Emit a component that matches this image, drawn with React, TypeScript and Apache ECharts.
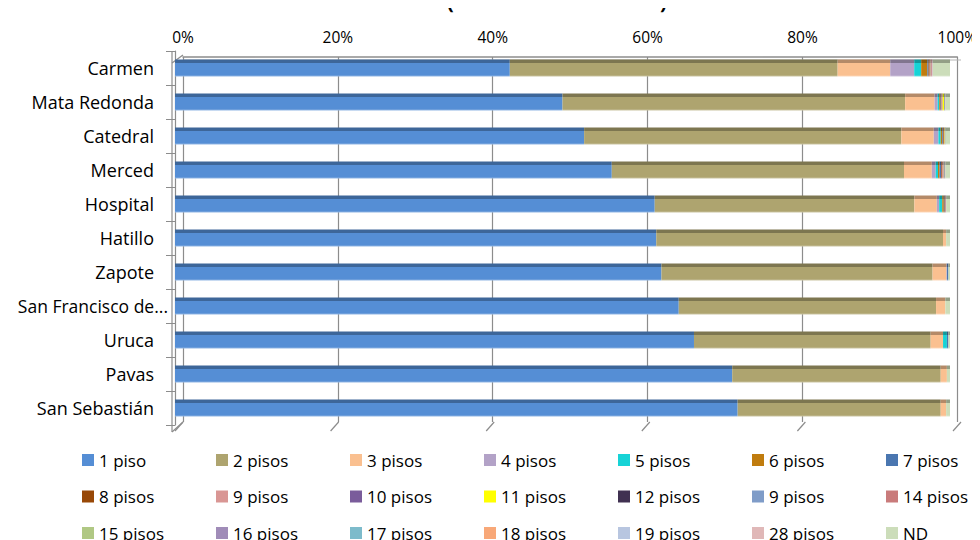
import React, { useEffect, useRef } from "react";
import * as echarts from "echarts";

// Categories (top to bottom)
const categories = [
  "Carmen",
  "Mata Redonda",
  "Catedral",
  "Merced",
  "Hospital",
  "Hatillo",
  "Zapote",
  "San Francisco de...",
  "Uruca",
  "Pavas",
  "San Sebastián",
];

// Percent values (per category, same order)
const piso1 = [43.3, 50.1, 53.0, 56.5, 61.9, 62.1, 62.8, 65.0, 67.1, 71.9, 72.6];
const pisos2 = [42.4, 44.3, 41.1, 37.8, 33.5, 37.0, 35.0, 33.2, 30.6, 26.9, 26.2];
const pisos3 = [6.8, 3.8, 4.2, 3.6, 2.9, 0.4, 1.8, 1.2, 1.6, 0.8, 0.7];
const pisos4 = [3.1, 0.4, 0.6, 0.5, 0.3, 0, 0.05, 0, 0, 0, 0];
const pisos5 = [0.9, 0.2, 0.3, 0.3, 0.4, 0, 0, 0, 0.5, 0, 0];
const pisos6 = [0.8, 0.1, 0.2, 0.2, 0.2, 0, 0, 0, 0, 0, 0];
const pisos7 = [0.15, 0.1, 0.1, 0.2, 0.1, 0, 0.2, 0, 0.2, 0, 0];
const pisos8 = [0.15, 0.1, 0.1, 0.1, 0.1, 0, 0, 0, 0, 0, 0];
const pisos9 = [0.1, 0.1, 0.05, 0.2, 0.05, 0, 0, 0, 0, 0, 0];
const pisos10 = [0.05, 0.05, 0.05, 0.05, 0.05, 0, 0, 0, 0, 0, 0];
const pisos11 = [0.02, 0.2, 0.05, 0.05, 0, 0, 0, 0, 0, 0, 0];
const pisos12 = [0.02, 0.05, 0.05, 0.05, 0, 0, 0, 0, 0, 0, 0];
const pisos9b = [0.02, 0.05, 0, 0.05, 0, 0, 0, 0, 0, 0, 0];
const pisos14 = [0.1, 0.05, 0, 0.05, 0, 0, 0, 0, 0, 0, 0];
const pisos15 = [0.02, 0, 0, 0, 0, 0, 0, 0, 0, 0, 0];
const pisos16 = [0.02, 0, 0, 0, 0, 0, 0, 0, 0, 0, 0];
const pisos17 = [0.02, 0, 0, 0, 0, 0, 0, 0, 0, 0, 0];
const pisos18 = [0.02, 0, 0, 0, 0, 0, 0, 0, 0, 0, 0];
const pisos19 = [0.02, 0, 0, 0, 0, 0, 0, 0, 0, 0, 0];
const pisos28 = [0.02, 0, 0, 0, 0, 0, 0, 0, 0, 0, 0];
const nd = [2.2, 0.6, 0.6, 0.6, 0.5, 0.5, 0.2, 0.6, 0.2, 0.4, 0.5];

// Legend labels (as shown, incl. the duplicated "9 pisos")
const legendLabels = [
  "1 piso", "2 pisos", "3 pisos", "4 pisos", "5 pisos", "6 pisos", "7 pisos",
  "8 pisos", "9 pisos", "10 pisos", "11 pisos", "12 pisos", "9 pisos", "14 pisos",
  "15 pisos", "16 pisos", "17 pisos", "18 pisos", "19 pisos", "28 pisos", "ND",
];

// X-axis tick values
const xTicks = [0, 20, 40, 60, 80, 100];

const seriesValues = [
  piso1, pisos2, pisos3, pisos4, pisos5, pisos6, pisos7,
  pisos8, pisos9, pisos10, pisos11, pisos12, pisos9b, pisos14,
  pisos15, pisos16, pisos17, pisos18, pisos19, pisos28, nd,
];

const colors = [
  "#558ED5", "#AEA46F", "#FAC090", "#B3A2C7", "#17D3D6", "#C07C0E", "#4A76B0",
  "#984807", "#D99694", "#7A5C9B", "#FFFF00", "#403151", "#7F9CC8", "#C97B7B",
  "#B0C884", "#A08CB8", "#7DBBCB", "#F8A878", "#B8C6E0", "#E0B8B8", "#CCDDBA",
];

const FONT = "'Open Sans', sans-serif";

function shade(hex: string, f: number): string {
  const n = parseInt(hex.slice(1), 16);
  let r = (n >> 16) & 255, g = (n >> 8) & 255, b = n & 255;
  if (f < 0) {
    r = Math.round(r * (1 + f)); g = Math.round(g * (1 + f)); b = Math.round(b * (1 + f));
  } else {
    r = Math.round(r + (255 - r) * f); g = Math.round(g + (255 - g) * f); b = Math.round(b + (255 - b) * f);
  }
  return `rgb(${r},${g},${b})`;
}

export default function App() {
  const ref = useRef<HTMLDivElement>(null);

  useEffect(() => {
    if (!ref.current) return;
    const chart = echarts.init(ref.current, null, { renderer: "svg" });

    const seriesNames = legendLabels.map((l, i) => `s${i}`);
    const totals = categories.map((_, ci) =>
      seriesValues.reduce((s, arr) => s + arr[ci], 0)
    );

    const series = seriesValues.map((arr, si) => ({
      type: "bar",
      name: seriesNames[si],
      stack: "total",
      xAxisIndex: 0,
      yAxisIndex: 0,
      barWidth: 17,
      z: 5,
      itemStyle: {
        color: new echarts.graphic.LinearGradient(0, 0, 0, 1, [
          { offset: 0, color: shade(colors[si], -0.28) },
          { offset: 0.18, color: shade(colors[si], -0.28) },
          { offset: 0.2, color: colors[si] },
          { offset: 0.9, color: colors[si] },
          { offset: 1, color: shade(colors[si], 0.35) },
        ]),
      },
      data: arr.map((v, ci) => (v / totals[ci]) * 100),
    }));

    const rows = [
      [0, 1, 2, 3, 4, 5, 6],
      [7, 8, 9, 10, 11, 12, 13],
      [14, 15, 16, 17, 18, 19, 20],
    ];
    const legends = rows.map((row, r) => ({
      show: true,
      orient: "horizontal",
      left: 82,
      top: 450 + r * 36.5,
      width: 960,
      padding: 0,
      itemWidth: 12,
      itemHeight: 12,
      itemGap: 41,
      icon: "rect",
      selectedMode: false,
      formatter: (n: string) => legendLabels[Number(n.slice(1))],
      textStyle: {
        fontSize: 17,
        fontFamily: FONT,
        color: "#000",
        width: 76,
        lineHeight: 20,
        overflow: "truncate",
      },
      data: row.map((i) => ({
        name: seriesNames[i],
        itemStyle: { color: colors[i] },
      })),
    }));

    // back wall geometry
    const bL = 183, bR = 961, bT = 57, bB = 422, dx = -8, dy = 9;
    const graphics: any[] = [];
    xTicks.forEach((t) => {
      const x = bL + ((bR - bL) * t) / 100;
      graphics.push({
        type: "line",
        shape: { x1: x, y1: bB, x2: x + dx, y2: bB + dy },
        style: { stroke: "#8c8c8c", lineWidth: 1.2 },
        z: 1,
      });
    });
    graphics.push({
      type: "line",
      shape: { x1: bL, y1: bT + 3, x2: bR, y2: bT + 3 },
      style: { stroke: "#b5b5b5", lineWidth: 1 },
      z: 1,
    });
    graphics.push({
      type: "line",
      shape: { x1: 172, y1: 432, x2: bL, y2: bB },
      style: { stroke: "#8c8c8c", lineWidth: 1.2 },
      z: 1,
    });
    graphics.push({
      type: "line",
      shape: { x1: 172, y1: bT + 6, x2: bL, y2: bT - 2 },
      style: { stroke: "#8c8c8c", lineWidth: 1.2 },
      z: 1,
    });
    graphics.push({
      type: "line",
      shape: { x1: 172, y1: 51, x2: 172, y2: 432 },
      style: { stroke: "#8c8c8c", lineWidth: 1.2 },
      z: 1,
    });
    graphics.push({
      type: "text",
      left: 447,
      top: -9,
      style: { text: "(", fontSize: 20, fontWeight: "bold", fontFamily: FONT, fill: "#000" },
    });
    graphics.push({
      type: "text",
      left: 660,
      top: -9,
      style: { text: ")", fontSize: 20, fontWeight: "bold", fontFamily: FONT, fill: "#000" },
    });

    chart.setOption({
      animation: false,
      backgroundColor: "#fff",
      grid: [
        { left: 175, right: 30, top: 51, bottom: 115, containLabel: false },
        { left: bL, right: 980 - bR, top: bT, bottom: 540 - bB, containLabel: false },
      ],
      xAxis: [
        { type: "value", gridIndex: 0, min: 0, max: 100, show: false },
        {
          type: "value",
          gridIndex: 1,
          position: "top",
          min: 0,
          max: 100,
          interval: 20,
          axisLine: { show: true, lineStyle: { color: "#8c8c8c", width: 1.5 } },
          axisTick: { show: false },
          axisLabel: {
            formatter: "{value}%",
            fontSize: 15.5,
            fontFamily: FONT,
            color: "#000",
            margin: 12,
          },
          splitLine: { show: true, lineStyle: { color: "#8c8c8c", width: 1.2 } },
        },
      ],
      yAxis: [
        {
          type: "category",
          gridIndex: 0,
          data: categories,
          inverse: true,
          offset: 3,
          axisLine: { show: true, lineStyle: { color: "#8c8c8c", width: 1.2 } },
          axisTick: { show: true, length: 9, lineStyle: { color: "#8c8c8c" } },
          axisLabel: {
            fontSize: 18,
            fontFamily: FONT,
            color: "#000",
            margin: 4,
            formatter: (v: string) =>
              v.length > 16 ? `{s|${v}}` : `{n|${v}}`,
            rich: {
              s: { fontSize: 17.5, fontFamily: FONT, color: "#000" },
              n: { fontSize: 18, fontFamily: FONT, color: "#000", padding: [0, 14, 0, 0] },
            },
          },
        },
        {
          type: "category",
          gridIndex: 1,
          data: categories,
          show: false,
        },
      ],
      legend: legends,
      tooltip: { show: false },
      graphic: graphics,
      series,
    } as any);

    return () => chart.dispose();
  }, []);

  return (
    <div
      ref={ref}
      style={{ width: 980, height: 540, margin: "-8px 0 0 -8px" }}
    />
  );
}
